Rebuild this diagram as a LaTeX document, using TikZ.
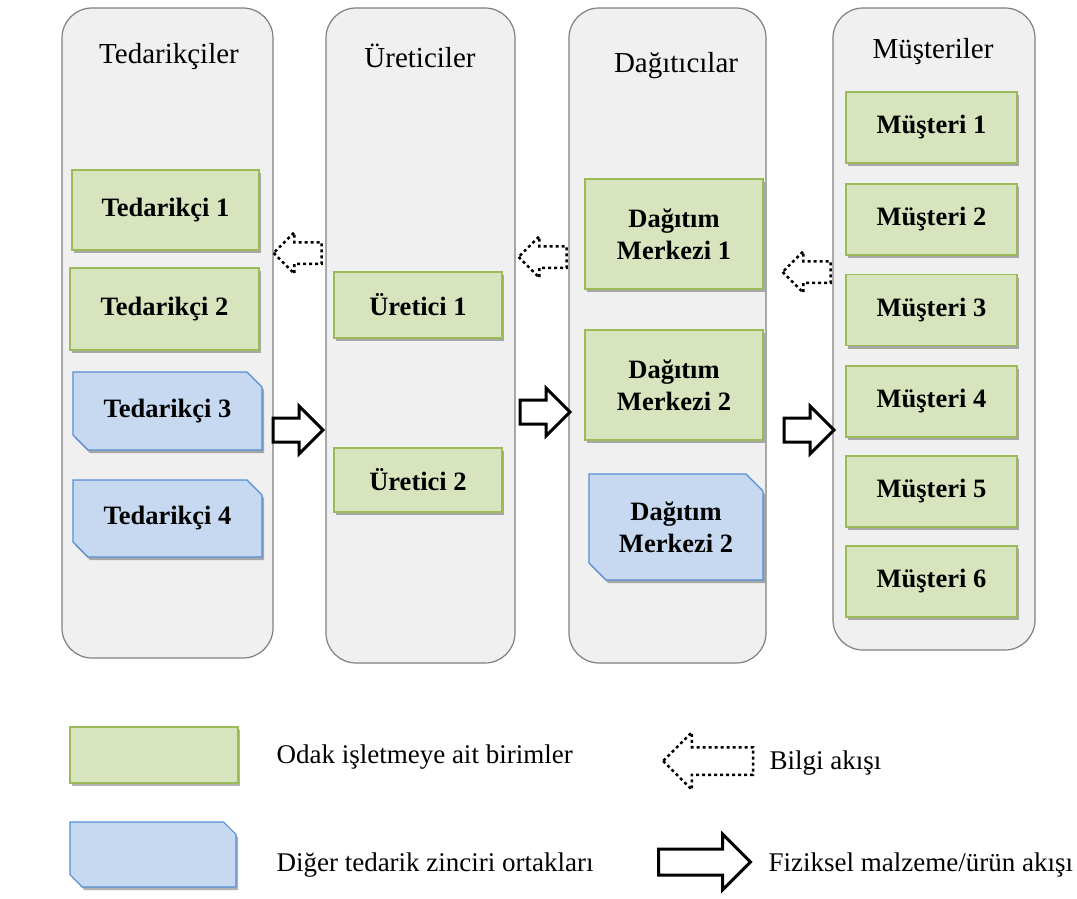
\documentclass[tikz,border=0pt]{standalone}
\usepackage{fontspec}
\setmainfont{Liberation Serif}
\usetikzlibrary{shapes.misc, shapes.arrows, shadows, positioning}

\definecolor{unitgreen}{HTML}{D7E4BD}
\definecolor{unitline}{HTML}{9BBB59}
\definecolor{partnerblue}{HTML}{C6D9F1}
\definecolor{partnerline}{HTML}{558ED5}
\definecolor{lanefill}{HTML}{F0F0F0}
\definecolor{laneline}{HTML}{7F7F7F}

\tikzset{
  lane/.style={draw=laneline, fill=lanefill, line width=1.2pt, rounded corners=30pt},
  lanetitle/.style={font=\fontsize{29}{33}\selectfont},
  boxshadow/.style={drop shadow={shadow xshift=2pt, shadow yshift=-3pt, opacity=0.3, fill=black}},
  unitbox/.style={draw=unitline, fill=unitgreen, line width=1.2pt, boxshadow,
    font=\bfseries\fontsize{26.5}{32}\selectfont, align=center, inner sep=0pt},
  partnerbox/.style={chamfered rectangle, chamfered rectangle corners={north east, south west},
    chamfered rectangle xsep=14pt, draw=partnerline, fill=partnerblue, line width=1.2pt, boxshadow,
    font=\bfseries\fontsize{26.5}{32}\selectfont, align=center, inner sep=0pt},
  infoflow/.style={single arrow, draw, line width=2.5pt, dash pattern=on 3pt off 3pt,
    shape border rotate=180, inner xsep=0pt},
  goodsflow/.style={single arrow, draw, line width=3pt, inner xsep=0pt},
  legendtext/.style={anchor=west, font=\fontsize{27}{31}\selectfont}
}

\begin{document}
\begin{tikzpicture}[x=1pt, y=-1pt]
    \useasboundingbox (0,0) rectangle (1077,899);

    % Lanes of the chain
    \node[lane, minimum width=211, minimum height=650] (supplierlane) at (167.5,333) {};
    \node[lane, minimum width=189, minimum height=655] (producerlane) at (420.5,335.5) {};
    \node[lane, minimum width=197, minimum height=655] (distributorlane) at (667.5,335.5) {};
    \node[lane, minimum width=202, minimum height=642] (customerlane) at (934,329) {};

    % Lane titles
    \node[lanetitle] (suppliers) at (169,57) {Tedarikçiler};
    \node[lanetitle] (producers) at (420,56) {Üreticiler};
    \node[lanetitle] (distributors) at (676,66) {Dağıtıcılar};
    \node[lanetitle] (customers) at (933,52) {Müşteriler};

    % Suppliers
    \node[unitbox, minimum width=187, minimum height=80] (sup1) at (165.5,210) {Tedarikçi 1};
    \node[unitbox, minimum width=189, minimum height=82] (sup2) at (164.5,309) {Tedarikçi 2};
    \node[partnerbox, minimum width=189, minimum height=78] (sup3) at (167.5,411) {Tedarikçi 3};
    \node[partnerbox, minimum width=189, minimum height=77] (sup4) at (167.5,518.5) {Tedarikçi 4};

    % Producers
    \node[unitbox, minimum width=168, minimum height=66] (prod1) at (418,305) {Üretici 1};
    \node[unitbox, minimum width=168, minimum height=64] (prod2) at (418,480) {Üretici 2};

    % Distribution centres
    \node[unitbox, minimum width=178, minimum height=110] (dist1) at (674,234) {Dağıtım\\Merkezi 1};
    \node[unitbox, minimum width=178, minimum height=110] (dist2) at (674,385) {Dağıtım\\Merkezi 2};
    \node[partnerbox, minimum width=174, minimum height=106] (dist3) at (676,527) {Dağıtım\\Merkezi 2};

    % Customers
    \foreach \i/\y in {1/127.5, 2/219.5, 3/310, 4/401.5, 5/491.5, 6/581.5}
        \node[unitbox, minimum width=171, minimum height=71] (cust\i) at (931.5,\y) {Müşteri \i};

    % Information flow (dotted, to the left)
    \node[infoflow, inner ysep=9.5pt, minimum height=48, single arrow head extend=10pt] (info1) at (303,253) {};
    \node[infoflow, inner ysep=9.5pt, minimum height=48, single arrow head extend=10pt] (info2) at (548,257) {};
    \node[infoflow, inner ysep=9.5pt, minimum height=48, single arrow head extend=10pt] (info3) at (812,272) {};

    % Material flow (solid, to the right)
    \node[goodsflow, inner ysep=10.5pt, minimum height=50, single arrow head extend=12pt] (goods1) at (292,430) {};
    \node[goodsflow, inner ysep=10.5pt, minimum height=50, single arrow head extend=12pt] (goods2) at (539,412) {};
    \node[goodsflow, inner ysep=10.5pt, minimum height=50, single arrow head extend=12pt] (goods3) at (803,430) {};

    % Legend
    \node[unitbox, minimum width=168, minimum height=56] (keyunit) at (154,755) {};
    \node[legendtext] (keyunittext) at (273,757) {Odak işletmeye ait birimler};
    \node[partnerbox, minimum width=166, minimum height=65] (keypartner) at (153,854.5) {\phantom{Tedarik}};
    \node[legendtext] (keypartnertext) at (273,865) {Diğer tedarik zinciri ortakları};
    \node[infoflow, inner ysep=12.5pt, minimum height=90, single arrow head extend=15pt] (keyinfo) at (715,761) {};
    \node[legendtext] (keyinfotext) at (766,763) {Bilgi akışı};
    \node[goodsflow, inner ysep=11.5pt, minimum height=92, single arrow head extend=15pt] (keygoods) at (698,862) {};
    \node[legendtext] (keygoodstext) at (765,865) {Fiziksel malzeme/ürün akışı};
\end{tikzpicture}
\end{document}
